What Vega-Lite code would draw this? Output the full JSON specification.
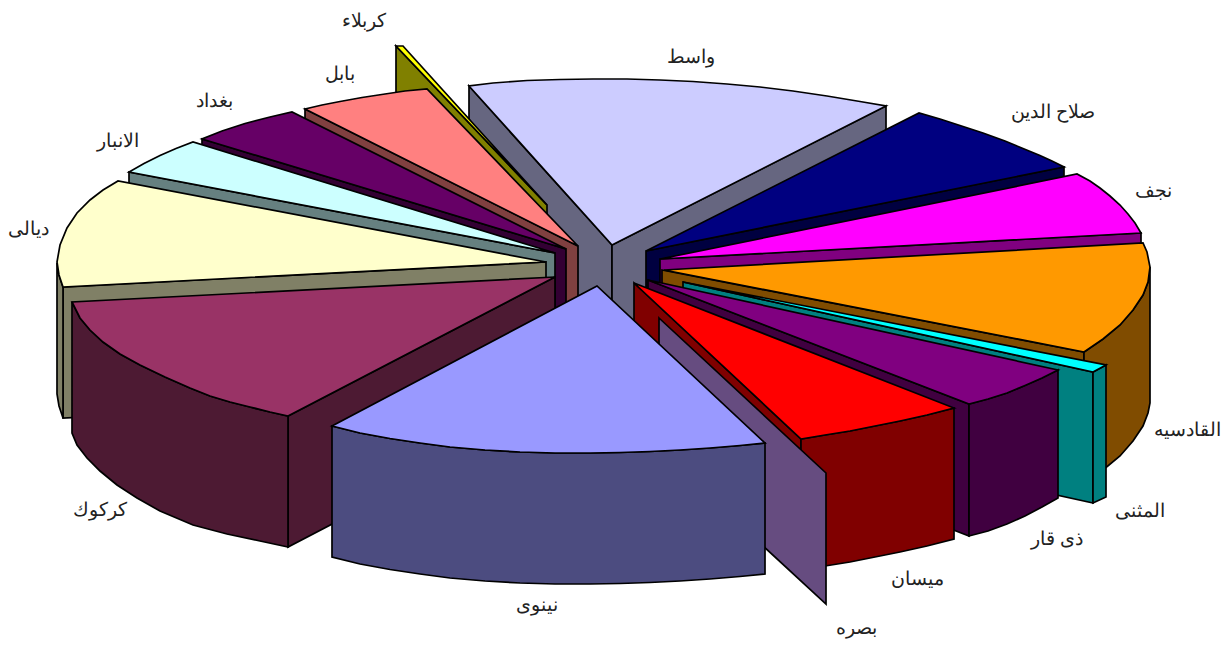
{"$schema":"https://vega.github.io/schema/vega-lite/v6.json","width":1224,"height":646,"autosize":{"type":"fit","contains":"padding"},"padding":0,"background":"white","config":{"view":{"stroke":null}},
"layer":[
{"data":{"values":[
{"p":"wl","n":1,"x":469,"y":86},{"p":"wl","n":2,"x":612,"y":245},{"p":"wl","n":3,"x":612,"y":376},{"p":"wl","n":4,"x":469,"y":217},
{"p":"wr","n":1,"x":612,"y":245},{"p":"wr","n":2,"x":886,"y":106},{"p":"wr","n":3,"x":886,"y":237},{"p":"wr","n":4,"x":612,"y":376},
{"p":"wt","n":1,"x":612,"y":245},{"p":"wt","n":2,"x":469,"y":86},{"p":"wt","n":3,"x":493,"y":83},{"p":"wt","n":4,"x":527,"y":80.5},{"p":"wt","n":5,"x":560,"y":79.5},{"p":"wt","n":6,"x":593,"y":79},{"p":"wt","n":7,"x":627,"y":79},{"p":"wt","n":8,"x":660,"y":80},{"p":"wt","n":9,"x":693,"y":81.5},{"p":"wt","n":10,"x":727,"y":84},{"p":"wt","n":11,"x":760,"y":87},{"p":"wt","n":12,"x":793,"y":91},{"p":"wt","n":13,"x":827,"y":96},{"p":"wt","n":14,"x":860,"y":101.5},{"p":"wt","n":15,"x":886,"y":106},
{"p":"ks","n":1,"x":396,"y":46},{"p":"ks","n":2,"x":547,"y":205},{"p":"ks","n":3,"x":547,"y":350},{"p":"ks","n":4,"x":396,"y":200},
{"p":"kt","n":1,"x":396,"y":46},{"p":"kt","n":2,"x":403,"y":46},{"p":"kt","n":3,"x":547,"y":205},
{"p":"bs","n":1,"x":305,"y":109},{"p":"bs","n":2,"x":578,"y":246},{"p":"bs","n":3,"x":578,"y":377},{"p":"bs","n":4,"x":305,"y":240},
{"p":"bt","n":1,"x":578,"y":246},{"p":"bt","n":2,"x":305,"y":109},{"p":"bt","n":3,"x":322,"y":105},{"p":"bt","n":4,"x":340,"y":101.5},{"p":"bt","n":5,"x":362,"y":97.5},{"p":"bt","n":6,"x":385,"y":94},{"p":"bt","n":7,"x":405,"y":91},{"p":"bt","n":8,"x":427,"y":89},
{"p":"gs","n":1,"x":202,"y":139},{"p":"gs","n":2,"x":566,"y":249},{"p":"gs","n":3,"x":566,"y":380},{"p":"gs","n":4,"x":202,"y":270},
{"p":"gt","n":1,"x":566,"y":249},{"p":"gt","n":2,"x":292,"y":112},{"p":"gt","n":3,"x":270,"y":117},{"p":"gt","n":4,"x":245,"y":123.5},{"p":"gt","n":5,"x":222,"y":131},{"p":"gt","n":6,"x":202,"y":139},
{"p":"as","n":1,"x":129,"y":172},{"p":"as","n":2,"x":555,"y":253},{"p":"as","n":3,"x":555,"y":384},{"p":"as","n":4,"x":129,"y":303},
{"p":"at","n":1,"x":555,"y":253},{"p":"at","n":2,"x":193,"y":142},{"p":"at","n":3,"x":176,"y":148.5},{"p":"at","n":4,"x":160,"y":155.5},{"p":"at","n":5,"x":144,"y":163.5},{"p":"at","n":6,"x":129,"y":172},
{"p":"df","n":1,"x":63,"y":287},{"p":"df","n":2,"x":546,"y":262},{"p":"df","n":3,"x":546,"y":393},{"p":"df","n":4,"x":63,"y":418},
{"p":"do","n":1,"x":57,"y":263},{"p":"do","n":2,"x":59,"y":275},{"p":"do","n":3,"x":63,"y":287},{"p":"do","n":4,"x":63,"y":418},{"p":"do","n":5,"x":59,"y":406},{"p":"do","n":6,"x":57,"y":394},
{"p":"dt","n":1,"x":546,"y":262},{"p":"dt","n":2,"x":118,"y":181},{"p":"dt","n":3,"x":103,"y":190},{"p":"dt","n":4,"x":90,"y":200},{"p":"dt","n":5,"x":77,"y":213},{"p":"dt","n":6,"x":67,"y":228},{"p":"dt","n":7,"x":60,"y":245},{"p":"dt","n":8,"x":57,"y":262},{"p":"dt","n":9,"x":59,"y":275},{"p":"dt","n":10,"x":63,"y":287},
{"p":"rr","n":1,"x":288,"y":416},{"p":"rr","n":2,"x":555,"y":277},{"p":"rr","n":3,"x":555,"y":408},{"p":"rr","n":4,"x":288,"y":547},
{"p":"ro","n":1,"x":72,"y":302},{"p":"ro","n":2,"x":80,"y":318},{"p":"ro","n":3,"x":90,"y":330},{"p":"ro","n":4,"x":103,"y":342},{"p":"ro","n":5,"x":120,"y":354},{"p":"ro","n":6,"x":140,"y":365},{"p":"ro","n":7,"x":165,"y":377},{"p":"ro","n":8,"x":190,"y":388},{"p":"ro","n":9,"x":210,"y":396},{"p":"ro","n":10,"x":230,"y":402},{"p":"ro","n":11,"x":250,"y":407},{"p":"ro","n":12,"x":270,"y":412},{"p":"ro","n":13,"x":288,"y":416},{"p":"ro","n":14,"x":288,"y":547},{"p":"ro","n":15,"x":260,"y":541},{"p":"ro","n":16,"x":227,"y":534},{"p":"ro","n":17,"x":193,"y":525},{"p":"ro","n":18,"x":160,"y":511},{"p":"ro","n":19,"x":137,"y":498},{"p":"ro","n":20,"x":117,"y":485},{"p":"ro","n":21,"x":100,"y":471},{"p":"ro","n":22,"x":87,"y":458},{"p":"ro","n":23,"x":77,"y":445},{"p":"ro","n":24,"x":72,"y":433},
{"p":"rt","n":1,"x":555,"y":277},{"p":"rt","n":2,"x":72,"y":302},{"p":"rt","n":3,"x":80,"y":318},{"p":"rt","n":4,"x":90,"y":330},{"p":"rt","n":5,"x":103,"y":342},{"p":"rt","n":6,"x":120,"y":354},{"p":"rt","n":7,"x":140,"y":365},{"p":"rt","n":8,"x":165,"y":377},{"p":"rt","n":9,"x":190,"y":388},{"p":"rt","n":10,"x":210,"y":396},{"p":"rt","n":11,"x":230,"y":402},{"p":"rt","n":12,"x":250,"y":407},{"p":"rt","n":13,"x":270,"y":412},{"p":"rt","n":14,"x":288,"y":416},
{"p":"ss","n":1,"x":646,"y":251},{"p":"ss","n":2,"x":1064,"y":167},{"p":"ss","n":3,"x":1064,"y":298},{"p":"ss","n":4,"x":646,"y":382},
{"p":"st","n":1,"x":646,"y":251},{"p":"st","n":2,"x":919,"y":113},{"p":"st","n":3,"x":940,"y":119},{"p":"st","n":4,"x":960,"y":125.5},{"p":"st","n":5,"x":983,"y":133},{"p":"st","n":6,"x":1005,"y":141},{"p":"st","n":7,"x":1023,"y":148.5},{"p":"st","n":8,"x":1040,"y":155.5},{"p":"st","n":9,"x":1052,"y":161},{"p":"st","n":10,"x":1064,"y":167},
{"p":"ns","n":1,"x":660,"y":259},{"p":"ns","n":2,"x":1141,"y":233},{"p":"ns","n":3,"x":1141,"y":364},{"p":"ns","n":4,"x":660,"y":390},
{"p":"nt","n":1,"x":660,"y":259},{"p":"nt","n":2,"x":1077,"y":174},{"p":"nt","n":3,"x":1090,"y":181},{"p":"nt","n":4,"x":1100,"y":188},{"p":"nt","n":5,"x":1110,"y":196},{"p":"nt","n":6,"x":1120,"y":205},{"p":"nt","n":7,"x":1128,"y":214},{"p":"nt","n":8,"x":1135,"y":223},{"p":"nt","n":9,"x":1141,"y":233},
{"p":"qs","n":1,"x":662,"y":270},{"p":"qs","n":2,"x":1084,"y":352},{"p":"qs","n":3,"x":1084,"y":483},{"p":"qs","n":4,"x":662,"y":401},
{"p":"qo","n":1,"x":1084,"y":352},{"p":"qo","n":2,"x":1103,"y":339},{"p":"qo","n":3,"x":1120,"y":325},{"p":"qo","n":4,"x":1133,"y":310},{"p":"qo","n":5,"x":1143,"y":295},{"p":"qo","n":6,"x":1148,"y":282},{"p":"qo","n":7,"x":1150,"y":267},{"p":"qo","n":8,"x":1150,"y":403},{"p":"qo","n":9,"x":1148,"y":413},{"p":"qo","n":10,"x":1143,"y":426},{"p":"qo","n":11,"x":1133,"y":441},{"p":"qo","n":12,"x":1120,"y":456},{"p":"qo","n":13,"x":1103,"y":470},{"p":"qo","n":14,"x":1084,"y":483},
{"p":"qt","n":1,"x":664,"y":270},{"p":"qt","n":2,"x":1084,"y":352},{"p":"qt","n":3,"x":1103,"y":339},{"p":"qt","n":4,"x":1120,"y":325},{"p":"qt","n":5,"x":1133,"y":310},{"p":"qt","n":6,"x":1143,"y":295},{"p":"qt","n":7,"x":1148,"y":282},{"p":"qt","n":8,"x":1150,"y":267},{"p":"qt","n":9,"x":1147,"y":252},{"p":"qt","n":10,"x":1143,"y":243},
{"p":"ms","n":1,"x":683,"y":282},{"p":"ms","n":2,"x":1093,"y":372},{"p":"ms","n":3,"x":1093,"y":503},{"p":"ms","n":4,"x":683,"y":413},
{"p":"mo","n":1,"x":1093,"y":372},{"p":"mo","n":2,"x":1106,"y":365},{"p":"mo","n":3,"x":1106,"y":497},{"p":"mo","n":4,"x":1093,"y":503},
{"p":"mt","n":1,"x":683,"y":282},{"p":"mt","n":2,"x":1093,"y":372},{"p":"mt","n":3,"x":1106,"y":365},
{"p":"hs","n":1,"x":648,"y":280},{"p":"hs","n":2,"x":969,"y":404},{"p":"hs","n":3,"x":969,"y":536},{"p":"hs","n":4,"x":648,"y":411},
{"p":"ho","n":1,"x":969,"y":404},{"p":"ho","n":2,"x":988,"y":399},{"p":"ho","n":3,"x":1007,"y":393},{"p":"ho","n":4,"x":1025,"y":385.5},{"p":"ho","n":5,"x":1042,"y":378},{"p":"ho","n":6,"x":1058,"y":370},{"p":"ho","n":7,"x":1058,"y":498},{"p":"ho","n":8,"x":1042,"y":507},{"p":"ho","n":9,"x":1025,"y":516},{"p":"ho","n":10,"x":1007,"y":524},{"p":"ho","n":11,"x":988,"y":531},{"p":"ho","n":12,"x":969,"y":536},
{"p":"ht","n":1,"x":648,"y":280},{"p":"ht","n":2,"x":969,"y":404},{"p":"ht","n":3,"x":988,"y":399},{"p":"ht","n":4,"x":1007,"y":393},{"p":"ht","n":5,"x":1025,"y":385.5},{"p":"ht","n":6,"x":1042,"y":378},{"p":"ht","n":7,"x":1058,"y":370},
{"p":"ys","n":1,"x":634,"y":283},{"p":"ys","n":2,"x":801,"y":439},{"p":"ys","n":3,"x":801,"y":570},{"p":"ys","n":4,"x":634,"y":414},
{"p":"yo","n":1,"x":801,"y":439},{"p":"yo","n":2,"x":825,"y":435},{"p":"yo","n":3,"x":850,"y":431},{"p":"yo","n":4,"x":875,"y":426},{"p":"yo","n":5,"x":900,"y":421},{"p":"yo","n":6,"x":927,"y":415},{"p":"yo","n":7,"x":954,"y":408},{"p":"yo","n":8,"x":954,"y":539},{"p":"yo","n":9,"x":927,"y":546},{"p":"yo","n":10,"x":900,"y":552},{"p":"yo","n":11,"x":875,"y":557},{"p":"yo","n":12,"x":850,"y":562},{"p":"yo","n":13,"x":825,"y":566},{"p":"yo","n":14,"x":801,"y":570},
{"p":"yt","n":1,"x":634,"y":283},{"p":"yt","n":2,"x":801,"y":439},{"p":"yt","n":3,"x":825,"y":435},{"p":"yt","n":4,"x":850,"y":431},{"p":"yt","n":5,"x":875,"y":426},{"p":"yt","n":6,"x":900,"y":421},{"p":"yt","n":7,"x":927,"y":415},{"p":"yt","n":8,"x":954,"y":408},
{"p":"es","n":1,"x":659,"y":318},{"p":"es","n":2,"x":826,"y":473},{"p":"es","n":3,"x":826,"y":604},{"p":"es","n":4,"x":659,"y":450},
{"p":"if","n":1,"x":332,"y":426},{"p":"if","n":2,"x":360,"y":433},{"p":"if","n":3,"x":390,"y":438.5},{"p":"if","n":4,"x":420,"y":443},{"p":"if","n":5,"x":450,"y":447},{"p":"if","n":6,"x":485,"y":450},{"p":"if","n":7,"x":520,"y":452},{"p":"if","n":8,"x":555,"y":453},{"p":"if","n":9,"x":590,"y":453},{"p":"if","n":10,"x":620,"y":452.5},{"p":"if","n":11,"x":650,"y":451.5},{"p":"if","n":12,"x":680,"y":450},{"p":"if","n":13,"x":710,"y":448},{"p":"if","n":14,"x":740,"y":445.5},{"p":"if","n":15,"x":765,"y":443},{"p":"if","n":16,"x":765,"y":574},{"p":"if","n":17,"x":740,"y":576.5},{"p":"if","n":18,"x":710,"y":579},{"p":"if","n":19,"x":680,"y":581},{"p":"if","n":20,"x":650,"y":582.5},{"p":"if","n":21,"x":620,"y":583.5},{"p":"if","n":22,"x":590,"y":584},{"p":"if","n":23,"x":555,"y":584},{"p":"if","n":24,"x":520,"y":583},{"p":"if","n":25,"x":485,"y":581},{"p":"if","n":26,"x":450,"y":578},{"p":"if","n":27,"x":420,"y":574},{"p":"if","n":28,"x":390,"y":569.5},{"p":"if","n":29,"x":360,"y":564},{"p":"if","n":30,"x":332,"y":557},
{"p":"it","n":1,"x":597,"y":286},{"p":"it","n":2,"x":332,"y":426},{"p":"it","n":3,"x":360,"y":433},{"p":"it","n":4,"x":390,"y":438.5},{"p":"it","n":5,"x":420,"y":443},{"p":"it","n":6,"x":450,"y":447},{"p":"it","n":7,"x":485,"y":450},{"p":"it","n":8,"x":520,"y":452},{"p":"it","n":9,"x":555,"y":453},{"p":"it","n":10,"x":590,"y":453},{"p":"it","n":11,"x":620,"y":452.5},{"p":"it","n":12,"x":650,"y":451.5},{"p":"it","n":13,"x":680,"y":450},{"p":"it","n":14,"x":710,"y":448},{"p":"it","n":15,"x":740,"y":445.5},{"p":"it","n":16,"x":765,"y":443}
]},
"mark":{"type":"line","filled":true,"interpolate":"linear-closed","stroke":"black","strokeWidth":1.7,"strokeJoin":"miter","clip":false},
"encoding":{
"x":{"field":"x","type":"quantitative","axis":null,"scale":{"domain":[0,1224],"nice":false,"zero":false}},
"y":{"field":"y","type":"quantitative","axis":null,"scale":{"domain":[0,646],"reverse":true,"nice":false,"zero":false}},
"order":{"field":"n","type":"quantitative"},
"fill":{"field":"p","type":"nominal","legend":null,"sort":null,"scale":{
"domain":["wl","wr","wt","ks","kt","bs","bt","gs","gt","as","at","df","do","dt","rr","ro","rt","ss","st","ns","nt","qs","qo","qt","ms","mo","mt","hs","ho","ht","ys","yo","yt","es","if","it"],
"range":["#666680","#666680","#CCCCFF","#808000","#FFFF00","#804040","#FF8080","#330033","#660066","#668080","#CCFFFF","#808066","#808066","#FFFFCC","#4D1A33","#4D1A33","#993366","#000040","#000080","#800080","#FF00FF","#804C00","#804C00","#FF9900","#008080","#008080","#00FFFF","#400040","#400040","#800080","#800000","#800000","#FF0000","#664C80","#4C4C80","#9999FF"]}}
}},
{"data":{"values":[
{"name":"كربلاء","x":364,"y":21},{"name":"بابل","x":340,"y":74},{"name":"بغداد","x":214,"y":101},{"name":"الانبار","x":118,"y":141},{"name":"ديالى","x":28,"y":229},{"name":"كركوك","x":100,"y":510},{"name":"نينوى","x":537,"y":605},{"name":"بصره","x":856,"y":628},{"name":"ميسان","x":917,"y":579},{"name":"ذى قار","x":1057,"y":539},{"name":"المثنى","x":1140,"y":511},{"name":"القادسيه","x":1187,"y":430},{"name":"نجف","x":1153,"y":191},{"name":"صلاح الدين","x":1053,"y":112},{"name":"واسط","x":691,"y":57}
]},
"mark":{"type":"text","font":"Liberation Sans","fontSize":18.5,"color":"#222222","align":"center","baseline":"middle"},
"encoding":{
"x":{"field":"x","type":"quantitative"},
"y":{"field":"y","type":"quantitative"},
"text":{"field":"name","type":"nominal"}
}}
]}
